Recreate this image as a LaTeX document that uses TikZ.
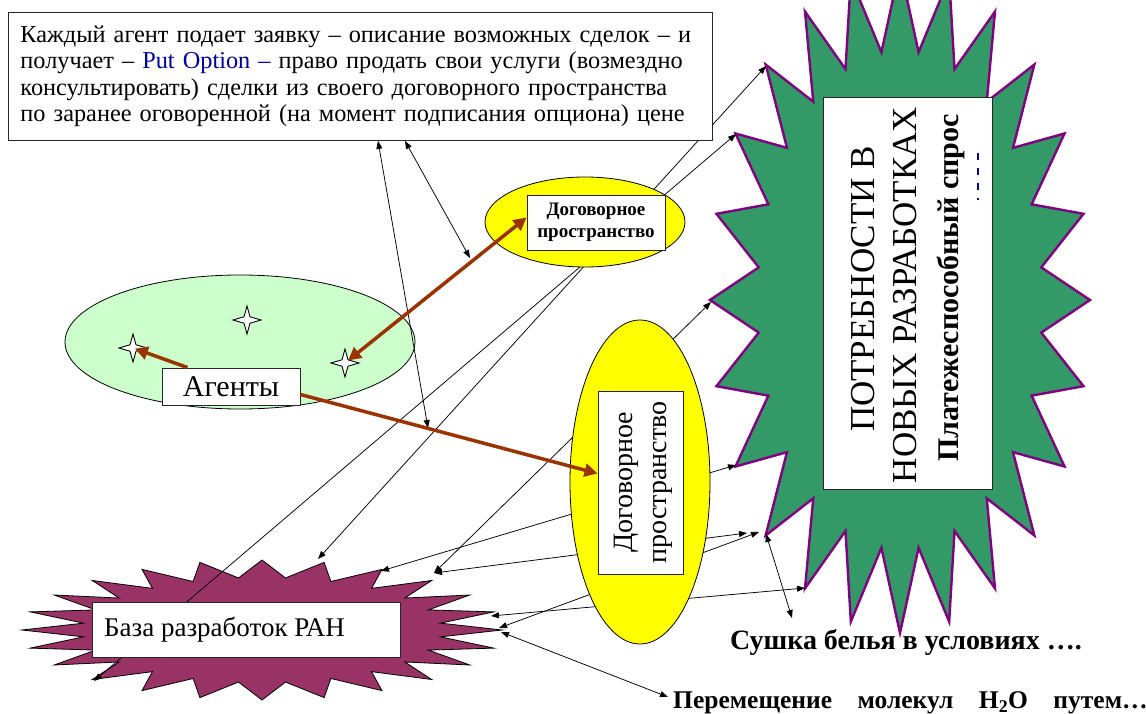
\documentclass[tikz,border=0pt]{standalone}
\usepackage{fontspec}
\setmainfont{Liberation Serif}
\newfontfamily\lserif{Liberation Serif}
\usetikzlibrary{arrows.meta,shapes.geometric,calc}
\definecolor{starGreen}{HTML}{339966}
\definecolor{starPurple}{HTML}{800080}
\definecolor{maroonFill}{HTML}{993366}
\definecolor{agentGreen}{HTML}{CCFFCC}
\definecolor{brownArrow}{HTML}{993300}
\definecolor{optBlue}{HTML}{000099}
\definecolor{yellowFill}{HTML}{FFFF00}
\pgfdeclarelayer{back}
\pgfdeclarelayer{lines}
\pgfsetlayers{back,lines,main}
\begin{document}
\begin{tikzpicture}[x=1pt,y=-1pt,
  conn/.style={draw=black, line width=0.75pt, {Triangle[length=8pt,width=6pt]}-{Triangle[length=8pt,width=6pt]}},
  brownarrow/.style={draw=brownArrow, line width=3.5pt, -{Triangle[length=13pt,width=13pt]}},
  brownarrowtwo/.style={draw=brownArrow, line width=3.5pt, {Triangle[length=13pt,width=13pt]}-{Triangle[length=13pt,width=13pt]}},
  whitebox/.style={draw=black!85, fill=white, line width=0.9pt, inner sep=0pt},
  yellowell/.style={ellipse, draw=black, fill=yellowFill, line width=0.8pt, inner sep=0pt},
  fstar/.style={draw=black, fill=white, line width=0.9pt, line join=miter},
  boldlabel/.style={font=\lserif\fontsize{28}{30}\selectfont\bfseries, inner sep=0pt},
]
\useasboundingbox (0,0) rectangle (1146,714);
\clip (0,0) rectangle (1146,714);

% ---------- back layer: agents field and starbursts
\begin{pgfonlayer}{back}
\node[ellipse, draw=black, fill=agentGreen, line width=0.8pt, minimum width=350pt, minimum height=134pt, inner sep=0pt] (agfield) at (240,342) {};
\path[draw=black, fill=maroonFill, line width=0.8pt] (502,630)
  \foreach \a in {0,15,...,345} { -- ({262+180*cos(\a+7.5)},{630+52.5*sin(\a+7.5)}) -- ({262+240*cos(\a+15)},{630+70*sin(\a+15)}) } -- cycle;
\path[draw=starPurple, fill=starGreen, line width=2.4pt, line join=miter] (1090,300)
  \foreach \a in {0,15,...,345} { -- ({900+142.5*cos(\a+7.5)},{300+250*sin(\a+7.5)}) -- ({900+190*cos(\a+15)},{300+333*sin(\a+15)}) } -- cycle;
\end{pgfonlayer}

% ---------- main layer: boxes and ellipses
\node[whitebox, text width=680pt, inner xsep=12pt, inner ysep=0pt, minimum height=128pt, anchor=north west, align=left,
      font=\lserif\fontsize{24.3}{26.5}\selectfont] (topbox) at (8,12)
  {Каждый агент подает заявку – описание возможных сделок – и\\
   получает – {\color{optBlue}Put Option –} право продать свои услуги (возмездно\\
   консультировать) сделки из своего договорного пространства\\
   по заранее оговоренной (на момент подписания опциона) цене};

\node[yellowell, minimum width=200pt, minimum height=90pt] (dsmall) at (585,222) {};
\node[whitebox, minimum width=138pt, minimum height=55pt, align=center,
      font=\lserif\fontsize{19}{22}\selectfont\bfseries] (db1) at (596,222.5) {Договорное\\пространство};

\node[yellowell, minimum width=140pt, minimum height=324pt] (dtall) at (640,482) {};
\node[whitebox, minimum width=85pt, minimum height=183pt] (db2) at (640.5,482.5) {};
\node[rotate=90, align=center, inner sep=0pt, font=\lserif\fontsize{28}{34}\selectfont] (db2text) at (643,482.5) {Договорное\\пространство};

\node[whitebox, minimum width=308pt, minimum height=55pt] (base) at (246,629.5) {};
\node[anchor=west, inner sep=0pt, font=\lserif\fontsize{27}{30}\selectfont] (basetext) at (104,630) {База разработок РАН};

\node[whitebox, minimum width=169pt, minimum height=392pt] (needbox) at (907.5,293) {};
\node[rotate=90, inner sep=0pt, font=\lserif\fontsize{35}{40}\selectfont] (needA) at (863,289) {ПОТРЕБНОСТИ В};
\node[rotate=90, inner sep=0pt, font=\lserif\fontsize{35}{40}\selectfont] (needB) at (905,295) {НОВЫХ РАЗРАБОТКАХ};
\node[rotate=90, inner sep=0pt, font=\lserif\fontsize{30}{34}\selectfont\bfseries] (needC) at (951,288) {Платежеспособный спрос};
\draw[optBlue, line width=1.5pt, dash pattern=on 7pt off 8pt] (978,153) -- (978,200);

\node[boldlabel] (sushka) at (906,642) {Сушка белья в условиях ….};
\node[boldlabel, anchor=west, font=\lserif\fontsize{25.5}{28}\selectfont\bfseries] (peremesh) at (673,703)
  {Перемещение\hspace{0.75em} молекул\hspace{0.75em} H\textsubscript{2}O\hspace{0.75em} путем…};

\coordinate (s1) at (133,348);
\coordinate (s2) at (247,320);
\coordinate (s3) at (345,363);
\foreach \c in {s1,s2,s3}
  \path[fstar] (\c) ++(0,-14) -- ++(3,10.8) -- ++(11,3.2) -- ++(-11,3.2) -- ++(-3,10.8) -- ++(-3,-10.8) -- ++(-11,-3.2) -- ++(11,-3.2) -- cycle;
\node[whitebox, minimum width=138pt, minimum height=37pt, font=\lserif\fontsize{30}{32}\selectfont] (ag) at (231,386.5) {Агенты};

% ---------- connector end points
\coordinate (g225) at (766,66);
\coordinate (g210) at (736,134);
\coordinate (g180) at (711,302);
\coordinate (g150) at (736,465);
\coordinate (g135) at (766,534);
\coordinate (g120) at (805,588);
\coordinate (gnearA) at (747,533);
\coordinate (gnearB) at (759,532);
\coordinate (m225) at (94,681);
\coordinate (m285) at (318,559);
\coordinate (m300) at (381,571);
\coordinate (m315) at (434,573);
\coordinate (m345) at (491,616);
\coordinate (mzero) at (499,628);
\coordinate (mzeroB) at (501,632);
\coordinate (cend) at (428,428);
\coordinate (dend) at (470,258);
\coordinate (sushkaend) at (792,618);
\coordinate (peremeshend) at (668,697);

% ---------- thin connectors (behind ellipses and boxes)
\begin{pgfonlayer}{lines}
\draw[conn] (m225) -- (g210);
\draw[conn] (m285) -- (g225);
\draw[conn] ([xshift=370pt]topbox.south west) -- (cend);
\draw[conn] ([xshift=397pt]topbox.south west) -- (dend);
\draw[conn] (m315) -- (g180);
\draw[conn] (m300) -- (g150);
\draw[conn] (m315) -- (gnearA);
\draw[conn] (m345) -- (g120);
\draw[conn] (mzero) -- (gnearB);
\draw[conn] (g135) -- (sushkaend);
\draw[conn] (mzeroB) -- (peremeshend);
\end{pgfonlayer}

% ---------- brown arrows
\draw[brownarrow, shorten >=2pt] ([xshift=26pt]ag.north west) -- (s1);
\draw[brownarrowtwo, shorten <=4pt] (s3) -- ([yshift=5pt]db1.west);
\draw[brownarrow] ([yshift=-8pt]ag.east) -- ([yshift=9pt]db2.west);
\end{tikzpicture}
\end{document}
